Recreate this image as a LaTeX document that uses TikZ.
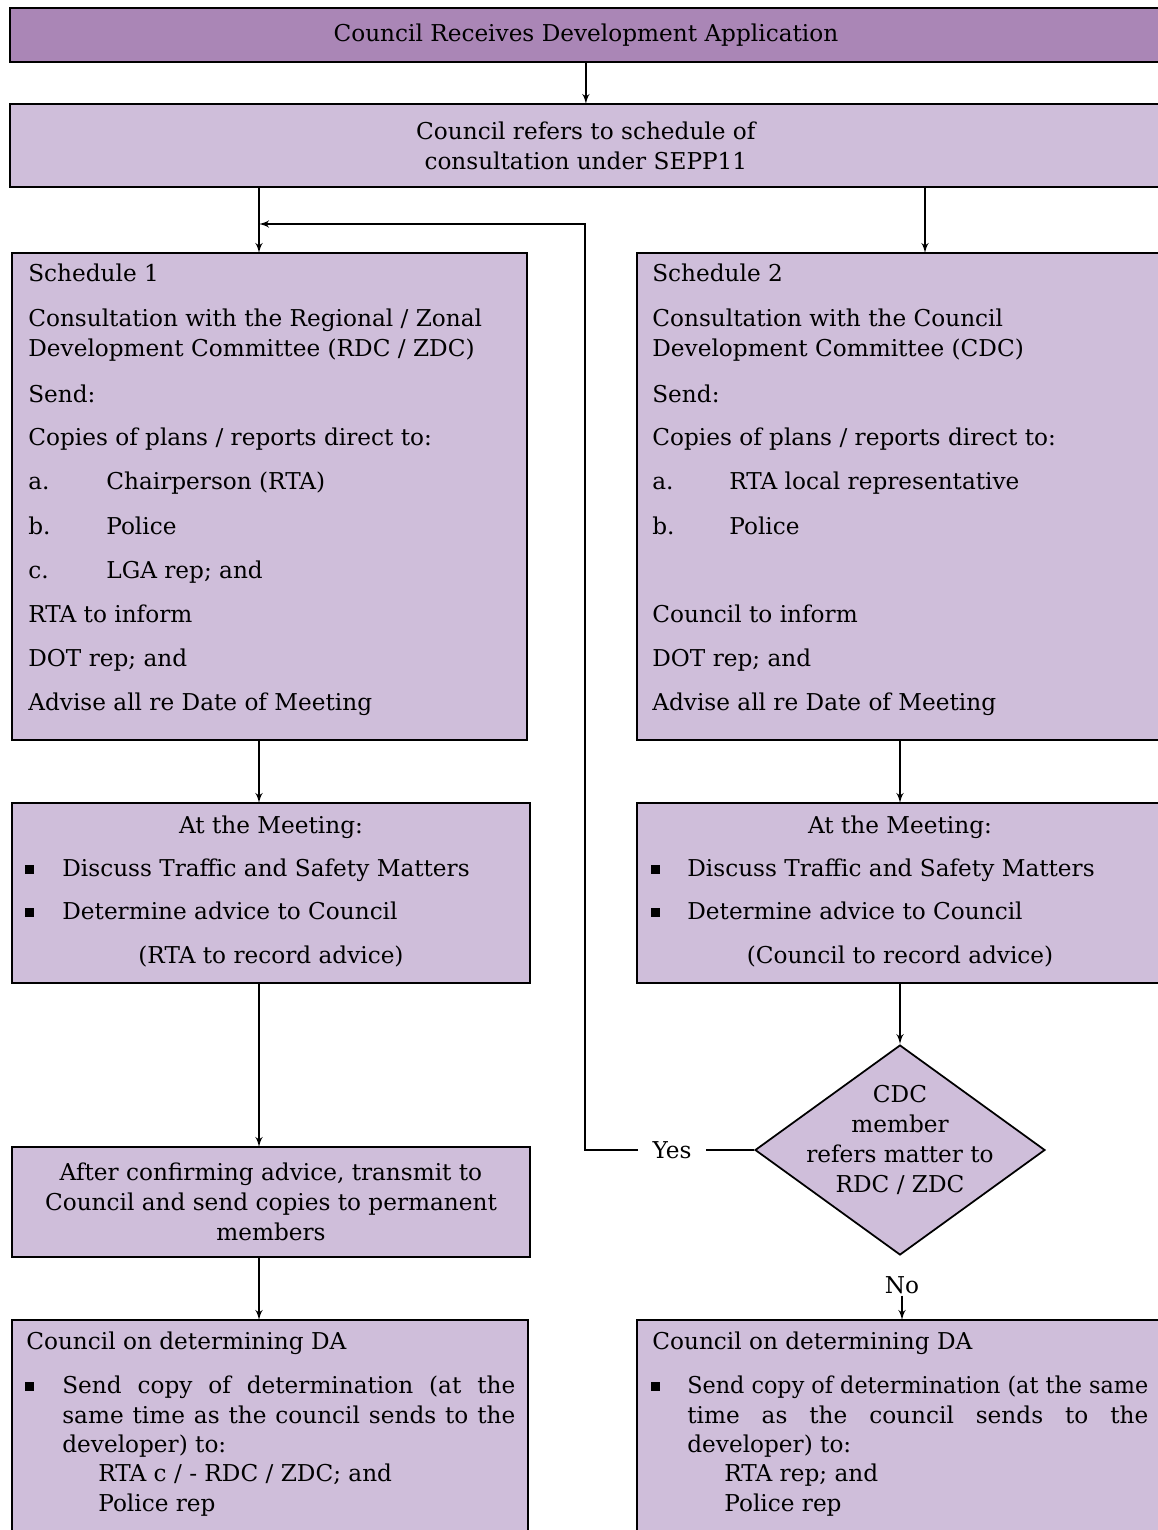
\documentclass[tikz,border=0pt]{standalone}
\usepackage{fontspec}
\setmainfont{DejaVu Serif}
\usetikzlibrary{arrows,shapes.geometric}
\definecolor{boxfill}{RGB}{207,190,218}
\definecolor{barfill}{RGB}{170,134,182}
\newcommand{\sqb}{\rule[0.1em]{0.36em}{0.36em}}
\newsavebox{\jlbox}
\newcommand{\jl}[2]{\sbox{\jlbox}{#2}\ifdim\wd\jlbox>#1\resizebox{#1}{\height}{#2}\else\makebox[#1][s]{#2}\fi}

\begin{document}
\begin{tikzpicture}[x=0.02cm,y=-0.02cm,font=\fontsize{13.2}{17}\selectfont]
\tikzset{box/.style = {draw, fill=boxfill, line width=1pt, anchor=north west, inner sep=0pt, outer sep=0pt}}
\tikzset{edge/.style = {->,> = latex', line width=1pt}}
\tikzset{txt/.style = {anchor=base west, inner sep=0pt}}
\tikzset{ctxt/.style = {anchor=base, inner sep=0pt}}
\tikzset{lbl/.style = {inner xsep=0.28cm, inner ysep=2pt}}
\clip (0,0) rectangle (1158,1530);
\fill[white] (0,0) rectangle (1158,1530);

% boxes
\node[box, fill=barfill, minimum width=23.04cm, minimum height=1.08cm] (recv) at (10,8) {Council Receives Development Application};
\node[box, minimum width=23.04cm, minimum height=1.66cm, align=center] (refer) at (10,104) {Council refers to schedule of\\consultation under SEPP11};
\node[box, minimum width=10.3cm, minimum height=9.74cm] (sched1) at (12,253) {};
\node[box, minimum width=10.5cm, minimum height=9.74cm] (sched2) at (637,253) {};
\node[box, minimum width=10.36cm, minimum height=3.6cm] (meet1) at (12,803) {};
\node[box, minimum width=10.5cm, minimum height=3.6cm] (meet2) at (637,803) {};
\node[box, minimum width=10.36cm, minimum height=2.2cm, align=center] (confirm) at (12,1147) {After confirming advice, transmit to\\Council and send copies to permanent\\members};
\node[box, minimum width=10.32cm, minimum height=4.4cm] (final1) at (12,1320) {};
\node[box, minimum width=10.5cm, minimum height=4.4cm] (final2) at (637,1320) {};
\node[diamond, draw, fill=boxfill, line width=1pt, minimum width=5.8cm, minimum height=4.2cm, inner sep=0pt] (ask) at (900,1150) {};

% schedule 1
\foreach \y/\t [count=\i] in {282/{Schedule 1}, 327/{Consultation with the Regional / Zonal}, 357/{Development Committee (RDC / ZDC)}, 402/{Send:}, 445/{Copies of plans / reports direct to:}, 622/{RTA to inform}, 666/{DOT rep; and}, 710/{Advise all re Date of Meeting}}
  \node[txt] (sa\i) at (28,\y) {\t};
\foreach \y/\l/\t [count=\i] in {489/a./{Chairperson (RTA)}, 534/b./{Police}, 578/c./{LGA rep; and}}
  {\node[txt] (la\i) at (28,\y) {\l};
   \node[txt] (ia\i) at (106,\y) {\t};}

% schedule 2
\foreach \y/\t [count=\i] in {282/{Schedule 2}, 327/{Consultation with the Council}, 357/{Development Committee (CDC)}, 402/{Send:}, 445/{Copies of plans / reports direct to:}, 622/{Council to inform}, 666/{DOT rep; and}, 710/{Advise all re Date of Meeting}}
  \node[txt] (sb\i) at (652,\y) {\t};
\foreach \y/\l/\t [count=\i] in {489/a./{RTA local representative}, 534/b./{Police}}
  {\node[txt] (lb\i) at (652,\y) {\l};
   \node[txt] (ib\i) at (729,\y) {\t};}

% meetings
\node[ctxt] (ma0) at (271,833) {At the Meeting:};
\node[txt] (mab1) at (25,876) {\sqb};
\node[txt] (ma1) at (62,876) {Discuss Traffic and Safety Matters};
\node[txt] (mab2) at (25,919) {\sqb};
\node[txt] (ma2) at (62,919) {Determine advice to Council};
\node[ctxt] (ma3) at (271,963) {(RTA to record advice)};
\node[ctxt] (mb0) at (900,833) {At the Meeting:};
\node[txt] (mbb1) at (651,876) {\sqb};
\node[txt] (mb1) at (687,876) {Discuss Traffic and Safety Matters};
\node[txt] (mbb2) at (651,919) {\sqb};
\node[txt] (mb2) at (687,919) {Determine advice to Council};
\node[ctxt] (mb3) at (900,963) {(Council to record advice)};

% determination
\node[txt] (fa0) at (26,1349) {Council on determining DA};
\node[txt] (fab) at (25,1393) {\sqb};
\node[txt] (fa1) at (62,1393) {\jl{9.06cm}{Send copy of determination (at the}};
\node[txt] (fa2) at (62,1423) {\jl{9.06cm}{same time as the council sends to the}};
\node[txt] (fa3) at (62,1452) {developer) to:};
\node[txt] (fa4) at (98,1481) {RTA c / - RDC / ZDC; and};
\node[txt] (fa5) at (98,1511) {Police rep};
\node[txt] (fb0) at (652,1349) {Council on determining DA};
\node[txt] (fbb) at (651,1393) {\sqb};
\node[txt] (fb1) at (687,1393) {\jl{9.22cm}{Send copy of determination (at the same}};
\node[txt] (fb2) at (687,1423) {\jl{9.22cm}{time as the council sends to the}};
\node[txt] (fb3) at (687,1452) {developer) to:};
\node[txt] (fb4) at (724,1481) {RTA rep; and};
\node[txt] (fb5) at (724,1511) {Police rep};

% decision
\node[align=center] (askt) at (900,1140) {CDC\\member\\refers matter to\\RDC / ZDC};
\node[lbl] (yes) at (672,1150) {Yes};
\node[inner sep=1pt] (no) at (902,1285) {No};

% connectors
\coordinate (colL) at (259,0);
\coordinate (colR) at (925,0);
\coordinate (turn) at (585,224);
\draw[edge] (recv) -- (refer);
\draw[edge] (refer.south -| colL) -- (sched1.north -| colL);
\draw[edge] (refer.south -| colR) -- (sched2.north -| colR);
\draw[edge] (sched1.south -| colL) -- (meet1.north -| colL);
\draw[edge] (meet1.south -| colL) -- (confirm.north -| colL);
\draw[edge] (confirm.south -| colL) -- (final1.north -| colL);
\draw[edge] (sched2.south -| ask) -- (meet2.north -| ask);
\draw[edge] (meet2.south -| ask) -- (ask.north);
\draw[line width=1pt] (ask.west) -- (yes.east);
\draw[edge] (yes.west) -| (turn) -- (turn -| colL);
\draw[edge] (no) -- (no |- final2.north);
\end{tikzpicture}
\end{document}
